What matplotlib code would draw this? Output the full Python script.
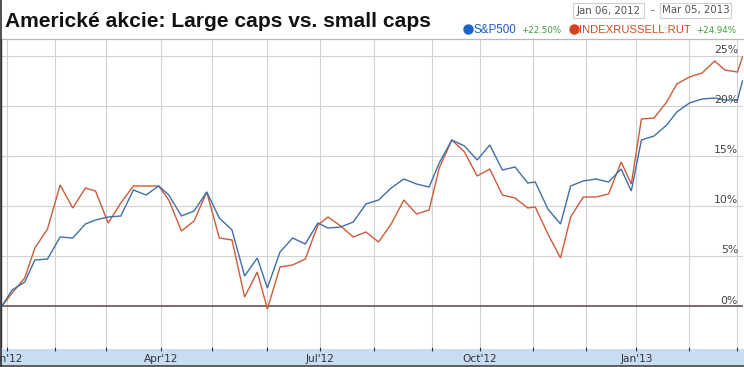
import numpy as np
import matplotlib
matplotlib.use("Agg")
import matplotlib.pyplot as plt
from matplotlib.lines import Line2D
from matplotlib.patches import Rectangle
import matplotlib.transforms as mtransforms

# ---------------- data ----------------
title = "Americké akcie: Large caps vs. small caps"
date_from = "Jan 06, 2012"
date_to = "Mar 05, 2013"
series_names = ["S&P500", "INDEXRUSSELL:RUT"]
series_changes = ["+22.50%", "+24.94%"]

# NYSE holidays in the period (x axis runs in trading days)
holidays = ["2012-01-02", "2012-01-16", "2012-02-20", "2012-04-06", "2012-05-28",
            "2012-07-04", "2012-09-03", "2012-10-29", "2012-10-30", "2012-11-22",
            "2012-12-25", "2013-01-01", "2013-01-21", "2013-02-18"]

# weekly closes (last trading day of each week) + the final day
week_fridays = np.arange("2011-12-30", "2013-03-02", 7, dtype="datetime64[D]")
last_day = np.array(["2013-03-05"], dtype="datetime64[D]")

sp500 = [0, 1.6, 2.4, 4.6, 4.7, 6.9, 6.8, 8.2, 8.6, 8.9,
         9.0, 11.6, 11.1, 12.0, 11.1, 9.0, 9.5, 11.4, 8.8, 7.6,
         3.0, 4.8, 1.8, 5.4, 6.8, 6.2, 8.3, 7.8, 7.9, 8.4,
         10.2, 10.6, 11.8, 12.7, 12.2, 11.9, 14.3, 16.6, 16.0, 14.6,
         16.1, 13.6, 13.9, 12.3, 12.4, 9.7, 8.2, 12.0, 12.5, 12.7,
         12.4, 13.7, 11.5, 16.6, 17.0, 18.1, 19.4, 20.3, 20.7, 20.8,
         20.6, 20.6, 22.5]
russell = [0, 1.3, 2.8, 5.8, 7.7, 12.1, 9.8, 11.8, 11.5, 8.3,
           10.3, 12.0, 12.0, 12.0, 10.6, 7.5, 8.5, 11.4, 6.8, 6.6,
           0.9, 3.4, -0.3, 3.9, 4.1, 4.7, 8.1, 8.9, 8.0, 6.9,
           7.4, 6.4, 8.2, 10.6, 9.2, 9.6, 13.8, 16.6, 15.4, 13.0,
           13.7, 11.1, 10.8, 9.8, 9.9, 7.2, 4.8, 8.9, 10.9, 10.9,
           11.2, 14.4, 12.2, 18.7, 18.8, 20.4, 22.2, 22.9, 23.3, 24.5,
           23.6, 23.4, 24.9]

month_starts = ["2012-01-04", "2012-02-01", "2012-03-01", "2012-04-01", "2012-05-01",
                "2012-06-01", "2012-07-01", "2012-08-01", "2012-09-01", "2012-10-01",
                "2012-11-01", "2012-12-01", "2013-01-01", "2013-02-01", "2013-03-01"]
month_labels = ["Jan'12", "", "", "Apr'12", "", "", "Jul'12", "", "", "Oct'12",
                "", "", "Jan'13", "", ""]
y_ticks = [0, 5, 10, 15, 20, 25]

# ---------------- computation ----------------
origin = np.datetime64("2012-01-03")
dates = np.concatenate([np.busday_offset(week_fridays, 0, roll="backward", holidays=holidays), last_day])
x = np.busday_count(origin, dates, holidays=holidays)
mticks = np.busday_count(origin, np.busday_offset(np.array(month_starts, dtype="datetime64[D]"), 0,
                                                   roll="forward", holidays=holidays), holidays=holidays)

# ---------------- figure ----------------
W, H = 744, 367
fig = plt.figure(figsize=(W / 100, H / 100), dpi=100)
fig.patch.set_facecolor("white")

def fx(px):
    return px / W

def fy(py):
    return 1 - py / H

ax_left, ax_right, ax_top, ax_bot = 1, 743, 39, 347
ax = fig.add_axes([fx(ax_left), fy(ax_bot), fx(ax_right - ax_left), (ax_bot - ax_top) / H])
ax.set_facecolor("white")

blue = "#3e6fa8"
orange = "#cc5b3b"
ax.plot(x, sp500, color=blue, lw=1.0, zorder=4, solid_joinstyle="miter", clip_on=False)
ax.plot(x, russell, color=orange, lw=1.0, zorder=3, solid_joinstyle="miter", clip_on=False)

ax.set_xlim(-1.4, 292.2)
ax.set_ylim(-4.1, 26.7)

# grid
for v in y_ticks:
    if v == 0:
        ax.axhline(v, color="#5a4444", lw=1.1, zorder=2)
    else:
        ax.axhline(v, color="#d2d2d2", lw=0.8, zorder=1)
for m in mticks:
    ax.axvline(m, color="#d2d2d2", lw=0.8, zorder=1)

ax.set_xticks(mticks)
ax.set_xticklabels(month_labels, fontsize=7.6, color="#333333", family="DejaVu Sans")
ax.tick_params(axis="x", direction="out", length=3.2, width=0.8, color="#333333", pad=2.0)
ax.set_yticks([])

for s in ["right", "bottom"]:
    ax.spines[s].set_visible(False)
ax.spines["top"].set_color("#b8b8b8")
ax.spines["top"].set_linewidth(0.9)
ax.spines["left"].set_color("#333333")
ax.spines["left"].set_linewidth(1.0)

# y tick labels inside the plot, right side, sitting on the grid lines
trans = mtransforms.blended_transform_factory(ax.transAxes, ax.transData)
for v in y_ticks:
    ax.text((738 - ax_left) / (ax_right - ax_left), v + 0.05, f"{v}%", transform=trans,
            ha="right", va="bottom", fontsize=7.8, color="#444444", family="DejaVu Sans", zorder=6)

# bottom band
fig.patches.append(Rectangle((0, fy(366)), 1, (366 - 349) / H, transform=fig.transFigure,
                             facecolor="#c9ddf2", edgecolor="none", zorder=-1))
fig.lines.append(Line2D([0, 1], [fy(366), fy(366)], transform=fig.transFigure, color="#444444", lw=1.2))
fig.lines.append(Line2D([fx(0.5), fx(0.5)], [0, 1], transform=fig.transFigure, color="#333333", lw=1.2))

# title
fig.text(fx(5), fy(27), title, fontsize=15.1, fontweight="bold", family="Liberation Sans",
         color="#111111", ha="left", va="baseline")

# date range boxes
for (x0, x1, txt) in [(573, 644, date_from), (660, 731, date_to)]:
    fig.patches.append(Rectangle((fx(x0), fy(18)), fx(x1 - x0), 15 / H, transform=fig.transFigure,
                                 facecolor="white", edgecolor="#d0d0d0", lw=0.8))
    fig.text(fx((x0 + x1) / 2), fy(10.5), txt, fontsize=7.4, color="#555555",
             family="DejaVu Sans", ha="center", va="center")
fig.text(fx(652), fy(10.5), "-", fontsize=7.4, color="#555555", family="DejaVu Sans",
         ha="center", va="center")

# legend row
leg_base = fy(33)
dot_blue = "#1e63c6"
dot_orange = "#d4431f"
green = "#3d9b3d"
fig.lines.append(Line2D([fx(467.5)], [fy(29.3)], transform=fig.transFigure, marker="o",
                        markersize=6.5, color=dot_blue, lw=0))
fig.text(fx(474), leg_base, series_names[0], fontsize=8.4, color="#1f5fbf",
         family="Liberation Sans", ha="left", va="baseline")
fig.text(fx(521), leg_base, series_changes[0], fontsize=6.2, color=green,
         family="DejaVu Sans", ha="left", va="baseline")
fig.lines.append(Line2D([fx(573.5)], [fy(29.3)], transform=fig.transFigure, marker="o",
                        markersize=6.5, color=dot_orange, lw=0))
fig.text(fx(579), leg_base, series_names[1], fontsize=8.1, color="#cf4a23",
         family="Liberation Sans", ha="left", va="baseline")
fig.text(fx(696), leg_base, series_changes[1], fontsize=6.2, color=green,
         family="DejaVu Sans", ha="left", va="baseline")

fig.savefig("out.png", dpi=100, facecolor="white")
